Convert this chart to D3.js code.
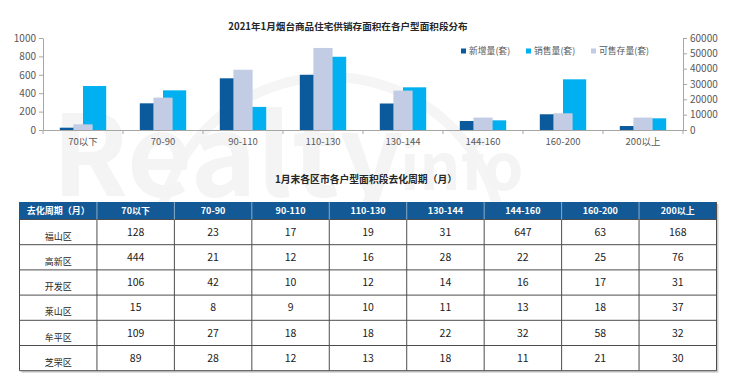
<!DOCTYPE html>
<html>
<head>
<meta charset="utf-8">
<script src="https://cdn.jsdelivr.net/npm/d3@7"></script>
<style>
  body { margin: 0; background: #fff; }
  svg { display: block; }
  text { font-family: "Noto Sans CJK SC", "Noto Sans", sans-serif; }
</style>
</head>
<body>
<div id="chart"></div>
<script>
// categories / series
var categories = ['70以下', '70-90', '90-110', '110-130', '130-144', '144-160', '160-200', '200以上'];
var newSupply = [25, 290, 562, 600, 288, 98, 171, 43];          // 新增量(套) left axis
var sales = [478, 431, 251, 796, 464, 105, 551, 127];           // 销售量(套) left axis
var stock = [3700, 21100, 39300, 53500, 25700, 8100, 10900, 8100]; // 可售存量(套) right axis
var leftTicks = [0, 200, 400, 600, 800, 1000];
var rightTicks = [0, 10000, 20000, 30000, 40000, 50000, 60000];

var districts = ['福山区', '高新区', '开发区', '莱山区', '牟平区', '芝罘区'];
var tableHead = ['去化周期（月）'].concat(categories);
var cycles = [
  [128, 23, 17, 19, 31, 647, 63, 168],
  [444, 21, 12, 16, 28, 22, 25, 76],
  [106, 42, 10, 12, 14, 16, 17, 31],
  [15, 8, 9, 10, 11, 13, 18, 37],
  [109, 27, 18, 18, 22, 32, 58, 32],
  [89, 28, 12, 13, 18, 11, 21, 30]
];

var W = 740, H = 386;
var colors = {
  newSupply: '#0b5a9c',
  sales: '#00b0f0',
  stock: '#c3cce5'
};

var svg = d3.select('#chart').append('svg')
  .attr('width', W)
  .attr('height', H);

// faint watermark
var wm = svg.append('g').attr('class', 'watermark');
wm.append('path')
  .attr('d', d3.arc()({innerRadius: 168, outerRadius: 178, startAngle: -1.9, endAngle: 1.35}))
  .attr('transform', 'translate(330,250)')
  .attr('fill', '#f5f5f5');
wm.append('text')
  .attr('x', 52).attr('y', 196)
  .attr('font-family', 'Liberation Sans')
  .attr('font-weight', 'bold')
  .attr('font-size', 112)
  .attr('fill', '#f4f4f4')
  .text('Realty');
wm.append('text')
  .attr('x', 400).attr('y', 190)
  .attr('font-family', 'Liberation Sans')
  .attr('font-weight', 'bold')
  .attr('font-size', 64)
  .attr('fill', '#f4f4f4')
  .text('info');
wm.append('text')
  .attr('x', 378).attr('y', 252)
  .attr('font-weight', 'bold')
  .attr('font-size', 42)
  .attr('fill', '#f2f2f2')
  .text('锐理数据');

// ---- bar chart ----
var plot = {left: 43, right: 683, top: 38, bottom: 130};

var x = d3.scaleBand()
  .domain(categories)
  .range([plot.left, plot.right]);

var yL = d3.scaleLinear().domain([0, 1000]).range([plot.bottom, plot.top]);
var yR = d3.scaleLinear().domain([0, 60000]).range([plot.bottom, plot.top]);

svg.append('text')
  .attr('x', 348).attr('y', 30)
  .attr('text-anchor', 'middle')
  .attr('font-size', 9.6)
  .attr('font-weight', 'bold')
  .attr('fill', '#262626')
  .text('2021年1月烟台商品住宅供销存面积在各户型面积段分布');

// primary bars: two side by side, secondary bar centered on top
var bw = x.bandwidth() * 0.29;
var gap = (x.bandwidth() - 2 * bw) / 2;
var sw = x.bandwidth() * 0.24;

var bars = svg.append('g').attr('class', 'bars');

bars.selectAll('.b-new').data(categories).enter().append('rect')
  .attr('class', 'b-new')
  .attr('x', function (d) { return x(d) + gap; })
  .attr('width', bw)
  .attr('y', function (d, i) { return yL(newSupply[i]); })
  .attr('height', function (d, i) { return yL(0) - yL(newSupply[i]); })
  .attr('fill', colors.newSupply);

bars.selectAll('.b-sales').data(categories).enter().append('rect')
  .attr('class', 'b-sales')
  .attr('x', function (d) { return x(d) + gap + bw; })
  .attr('width', bw)
  .attr('y', function (d, i) { return yL(sales[i]); })
  .attr('height', function (d, i) { return yL(0) - yL(sales[i]); })
  .attr('fill', colors.sales);

bars.selectAll('.b-stock').data(categories).enter().append('rect')
  .attr('class', 'b-stock')
  .attr('x', function (d) { return x(d) + (x.bandwidth() - sw) / 2; })
  .attr('width', sw)
  .attr('y', function (d, i) { return yR(stock[i]); })
  .attr('height', function (d, i) { return yR(0) - yR(stock[i]); })
  .attr('fill', colors.stock);

// axes
var axisColor = '#a6a6a6';
var labelColor = '#595959';

var leftAxis = svg.append('g')
  .attr('transform', 'translate(' + plot.left + ',0)')
  .call(d3.axisLeft(yL).tickValues(leftTicks).tickFormat(d3.format('d')).tickSize(4).tickSizeOuter(0));

var rightAxis = svg.append('g')
  .attr('transform', 'translate(' + plot.right + ',0)')
  .call(d3.axisRight(yR).tickValues(rightTicks).tickFormat(d3.format('d')).tickSize(4).tickSizeOuter(0));

var bottomAxis = svg.append('g')
  .attr('transform', 'translate(0,' + plot.bottom + ')')
  .call(d3.axisBottom(x).tickSize(0).tickPadding(8));

// category separators below the axis
svg.append('g').selectAll('line')
  .data(categories.concat(['end']))
  .enter().append('line')
  .attr('x1', function (d, i) { return plot.left + i * x.step(); })
  .attr('x2', function (d, i) { return plot.left + i * x.step(); })
  .attr('y1', plot.bottom)
  .attr('y2', plot.bottom + 4)
  .attr('stroke', axisColor);

[leftAxis, rightAxis, bottomAxis].forEach(function (a) {
  a.selectAll('path, line').attr('stroke', axisColor);
  a.selectAll('text')
    .attr('fill', labelColor)
    .attr('font-size', 10);
});
leftAxis.selectAll('text').attr('font-family', 'Liberation Sans');
rightAxis.selectAll('text').attr('font-family', 'Liberation Sans');
bottomAxis.selectAll('text').attr('font-size', 9.5);

// legend
var legendItems = [
  {label: '新增量(套)', color: colors.newSupply, x: 461},
  {label: '销售量(套)', color: colors.sales, x: 526},
  {label: '可售存量(套)', color: colors.stock, x: 591}
];
var legend = svg.append('g').selectAll('g').data(legendItems).enter().append('g')
  .attr('transform', function (d) { return 'translate(' + d.x + ',51)'; });
legend.append('rect')
  .attr('x', 0).attr('y', -2.5)
  .attr('width', 5).attr('height', 5)
  .attr('fill', function (d) { return d.color; });
legend.append('text')
  .attr('x', 8).attr('dy', '0.35em')
  .attr('font-size', 8.8)
  .attr('fill', labelColor)
  .text(function (d) { return d.label; });

// ---- table ----
svg.append('text')
  .attr('x', 366).attr('y', 183)
  .attr('text-anchor', 'middle')
  .attr('font-size', 9.8)
  .attr('font-weight', 'bold')
  .attr('fill', '#262626')
  .text('1月末各区市各户型面积段去化周期（月）');

var tb = {left: 19.5, right: 716.5, top: 202, headH: 17.5, rowH: 25.2};
var tcol = d3.scaleBand()
  .domain(d3.range(tableHead.length))
  .range([tb.left, tb.right]);
var tbottom = tb.top + tb.headH + districts.length * tb.rowH;

var table = svg.append('g').attr('class', 'table');

// shadow
table.append('rect')
  .attr('x', tb.left + 2).attr('y', tb.top + 2)
  .attr('width', tb.right - tb.left).attr('height', tbottom - tb.top)
  .attr('fill', '#d0d0d0');
table.append('rect')
  .attr('x', tb.left).attr('y', tb.top)
  .attr('width', tb.right - tb.left).attr('height', tbottom - tb.top)
  .attr('fill', '#fff');

table.append('rect')
  .attr('x', tb.left).attr('y', tb.top)
  .attr('width', tb.right - tb.left).attr('height', tb.headH)
  .attr('fill', '#135996');

table.selectAll('.th').data(tableHead).enter().append('text')
  .attr('class', 'th')
  .attr('x', function (d, i) { return tcol(i) + tcol.bandwidth() / 2; })
  .attr('y', tb.top + tb.headH / 2)
  .attr('dy', '0.36em')
  .attr('text-anchor', 'middle')
  .attr('font-size', 9)
  .attr('font-weight', 'bold')
  .attr('fill', '#fff')
  .text(function (d) { return d; });

var rows = table.selectAll('.row').data(cycles).enter().append('g')
  .attr('class', 'row')
  .attr('transform', function (d, r) { return 'translate(0,' + (tb.top + tb.headH + r * tb.rowH) + ')'; });

rows.append('text')
  .attr('x', tcol(0) + tcol.bandwidth() / 2)
  .attr('y', 17)
  .attr('dy', '0.36em')
  .attr('text-anchor', 'middle')
  .attr('font-size', 9)
  .attr('fill', '#262626')
  .text(function (d, r) { return districts[r]; });

rows.selectAll('.td').data(function (d) { return d; }).enter().append('text')
  .attr('class', 'td')
  .attr('x', function (d, i) { return tcol(i + 1) + tcol.bandwidth() / 2; })
  .attr('y', 12.5)
  .attr('dy', '0.36em')
  .attr('text-anchor', 'middle')
  .attr('font-family', 'Noto Sans')
  .attr('font-size', 10.5)
  .attr('fill', '#1a1a1a')
  .text(function (d) { return d; });

// grid lines
var gridColor = '#4d4d4d';
table.selectAll('.hline').data(d3.range(districts.length + 1)).enter().append('line')
  .attr('x1', tb.left).attr('x2', tb.right)
  .attr('y1', function (d) { return tb.top + tb.headH + d * tb.rowH; })
  .attr('y2', function (d) { return tb.top + tb.headH + d * tb.rowH; })
  .attr('stroke', gridColor);
table.selectAll('.vline').data(d3.range(tableHead.length + 1)).enter().append('line')
  .attr('x1', function (d) { return tb.left + d * tcol.step(); })
  .attr('x2', function (d) { return tb.left + d * tcol.step(); })
  .attr('y1', function (d) { return (d === 0 || d === tableHead.length) ? tb.top : tb.top + tb.headH; })
  .attr('y2', tbottom)
  .attr('stroke', gridColor);
table.selectAll('.vhead').data(d3.range(1, tableHead.length)).enter().append('line')
  .attr('x1', function (d) { return tb.left + d * tcol.step(); })
  .attr('x2', function (d) { return tb.left + d * tcol.step(); })
  .attr('y1', tb.top).attr('y2', tb.top + tb.headH)
  .attr('stroke', '#ffffff').attr('stroke-opacity', 0.5);
</script>
</body>
</html>
